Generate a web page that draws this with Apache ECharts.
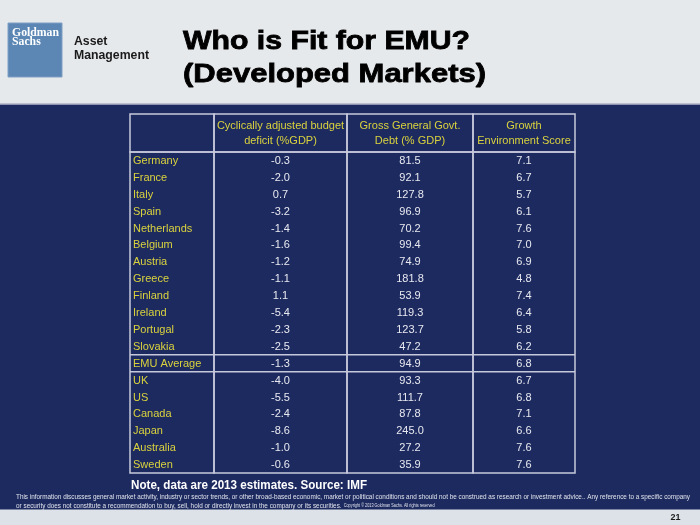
<!DOCTYPE html>
<html>
<head>
<meta charset="utf-8">
<script src="https://cdn.jsdelivr.net/npm/echarts@6/dist/echarts.min.js"></script>
<style>html,body{margin:0;padding:0;background:#1d2a5f;}#c{width:700px;height:525px;}</style>
</head>
<body>
<div id="c"></div>
<script>
// ---- data ----
var headers = ['', 'Cyclically adjusted budget\ndeficit (%GDP)', 'Gross General Govt.\nDebt (% GDP)', 'Growth\nEnvironment Score'];
var countries = ['Germany','France','Italy','Spain','Netherlands','Belgium','Austria','Greece','Finland','Ireland','Portugal','Slovakia','EMU Average','UK','US','Canada','Japan','Australia','Sweden'];
var deficit = [-0.3,-2.0,0.7,-3.2,-1.4,-1.6,-1.2,-1.1,1.1,-5.4,-2.3,-2.5,-1.3,-4.0,-5.5,-2.4,-8.6,-1.0,-0.6];
var debt = [81.5,92.1,127.8,96.9,70.2,99.4,74.9,181.8,53.9,119.3,123.7,47.2,94.9,93.3,111.7,87.8,245.0,27.2,35.9];
var score = [7.1,6.7,5.7,6.1,7.6,7.0,6.9,4.8,7.4,6.4,5.8,6.2,6.8,6.7,6.8,7.1,6.6,7.6,7.6];
var separatedRows = ['EMU Average'];

// ---- layout ----
var colEdges = [130, 214, 347, 473, 575];
var headTop = 114, headH = 38, bodyTop = 152, bodyH = 321;
var lineColor = '#c6c9dc';
var FONT = '"Liberation Sans", Arial, sans-serif';
var yellow = '#d9d23e', white = '#e8e9f0';

var columns = [
  countries.slice(),
  deficit.map(function(v){return v.toFixed(1);}),
  debt.map(function(v){return v.toFixed(1);}),
  score.map(function(v){return v.toFixed(1);})
];

var grid = [], xAxis = [], yAxis = [], series = [];
for (var i = 0; i < 4; i++) {
  var left = colEdges[i], w = colEdges[i+1] - colEdges[i];
  grid.push({left: left, width: w, top: headTop, height: headH, show: true, borderColor: lineColor, borderWidth: 1.5, backgroundColor: 'transparent'});
  xAxis.push({type: 'category', gridIndex: 2*i, data: ['c'+i], show: false});
  yAxis.push({type: 'category', gridIndex: 2*i, data: ['header'], show: false});
  series.push({
    type: 'custom', xAxisIndex: 2*i, yAxisIndex: 2*i, silent: true,
    data: [[0, 0]],
    renderItem: (function(ci){
      return function(params, api){
        var p = api.coord([0, 0]);
        return {type: 'text', x: p[0], y: p[1] + 0.5, style: {text: headers[ci], fill: yellow, font: '11px ' + FONT, align: 'center', verticalAlign: 'middle', lineHeight: 14.5}};
      };
    })(i)
  });
  grid.push({left: left, width: w, top: bodyTop, height: bodyH, show: true, borderColor: lineColor, borderWidth: 1.5, backgroundColor: 'transparent'});
  xAxis.push({type: 'category', gridIndex: 2*i+1, data: ['c'+i], show: false});
  yAxis.push({type: 'category', gridIndex: 2*i+1, data: countries, inverse: true, show: false});
  series.push({
    type: 'custom', xAxisIndex: 2*i+1, yAxisIndex: 2*i+1, silent: true,
    data: columns[i].map(function(t, j){ return [0, j]; }),
    renderItem: (function(ci){
      return function(params, api){
        var j = api.value(1);
        var p = api.coord([0, j]);
        var s = api.size([1, 1]);
        var first = ci === 0;
        var children = [{
          type: 'text',
          x: first ? p[0] - s[0]/2 + 3 : p[0],
          y: p[1] + 0.5,
          style: {text: columns[ci][params.dataIndex], fill: first ? yellow : white, font: '11px ' + FONT, align: first ? 'left' : 'center', verticalAlign: 'middle'}
        }];
        if (separatedRows.indexOf(countries[j]) >= 0) {
          var x0 = p[0] - s[0]/2, x1 = p[0] + s[0]/2, yt = p[1] - s[1]/2, yb = p[1] + s[1]/2;
          children.push({type: 'line', shape: {x1: x0, y1: yt, x2: x1, y2: yt}, style: {stroke: lineColor, lineWidth: 1.5}});
          children.push({type: 'line', shape: {x1: x0, y1: yb, x2: x1, y2: yb}, style: {stroke: lineColor, lineWidth: 1.5}});
        }
        return {type: 'group', children: children};
      };
    })(i)
  });
}

var disclaimer1 = 'This information discusses general market activity, industry or sector trends, or other broad-based economic, market or political conditions and should not be construed as research or investment advice.. Any reference to a specific company';
var disclaimer2 = 'or security does not constitute a recommendation to buy, sell, hold or directly invest in the company or its securities.';
var copyright = 'Copyright © 2013 Goldman Sachs. All rights reserved';

var mctx = document.createElement('canvas').getContext('2d');
function fit(text, font, target) { mctx.font = font; return target / mctx.measureText(text).width; }

var titleFont = 'bold 26.5px ' + FONT;
var t1 = 'Who is Fit for EMU?', t2 = '(Developed Markets)';
var logoFont = 'bold 12.5px "Liberation Serif", serif';
var amFont = 'bold 13px ' + FONT;
var noteFont = 'bold 12px ' + FONT;
var discFont = '7.5px ' + FONT;
var note = 'Note, data are 2013 estimates. Source: IMF';
var d1Scale = fit(disclaimer1, discFont, 674);

var chart = echarts.init(document.getElementById('c'), null, {renderer: 'canvas'});
chart.setOption({
  backgroundColor: '#1d2a5f',
  animation: false,
  grid: grid, xAxis: xAxis, yAxis: yAxis, series: series,
  graphic: [
    {type: 'rect', x: 0, y: 0, z: -10, shape: {width: 700, height: 104}, style: {fill: '#e6e9ec'}},
    {type: 'rect', x: 0, y: 103.5, z: -10, shape: {width: 700, height: 1.5}, style: {fill: '#8f95b0'}},
    {type: 'rect', x: 0, y: 509.5, z: -10, shape: {width: 700, height: 16}, style: {fill: '#dde2e8'}},
    {type: 'rect', x: 8, y: 23, shape: {width: 54, height: 54}, style: {fill: '#5c87b5', stroke: '#7f9fc4', lineWidth: 1}},
    {type: 'text', x: 12, y: 37, scaleX: fit('Goldman', logoFont, 47), style: {text: 'Goldman\nSachs', fill: '#ffffff', font: logoFont, lineHeight: 9, verticalAlign: 'middle'}},
    {type: 'text', x: 74, y: 48.5, scaleX: fit('Management', amFont, 75), style: {text: 'Asset\nManagement', fill: '#1a1a1a', font: amFont, lineHeight: 13.5, verticalAlign: 'middle'}},
    {type: 'text', x: 183, y: 41.5, scaleX: fit(t1, titleFont, 287), style: {text: t1, fill: '#000000', stroke: '#000000', lineWidth: 0.8, font: titleFont, verticalAlign: 'middle'}},
    {type: 'text', x: 183, y: 74.5, scaleX: fit(t2, titleFont, 303), style: {text: t2, fill: '#000000', stroke: '#000000', lineWidth: 0.8, font: titleFont, verticalAlign: 'middle'}},
    {type: 'text', x: 131, y: 486, scaleX: fit(note, noteFont, 236), style: {text: note, fill: '#ffffff', font: noteFont, verticalAlign: 'middle'}},
    {type: 'text', x: 16, y: 497, scaleX: d1Scale, style: {text: disclaimer1, fill: '#dfe2ec', font: discFont, verticalAlign: 'middle'}},
    {type: 'text', x: 16, y: 505.5, scaleX: d1Scale, style: {rich: {a: {fill: '#dfe2ec', font: discFont}, b: {fill: '#dfe2ec', font: '4.5px ' + FONT}}, text: '{a|' + disclaimer2 + '}{b|  ' + copyright + '}', verticalAlign: 'middle'}},
    {type: 'text', x: 675.5, y: 517.5, style: {text: '21', fill: '#1a1a1a', font: 'bold 9px ' + FONT, align: 'center', verticalAlign: 'middle'}}
  ]
});
</script>
</body>
</html>
